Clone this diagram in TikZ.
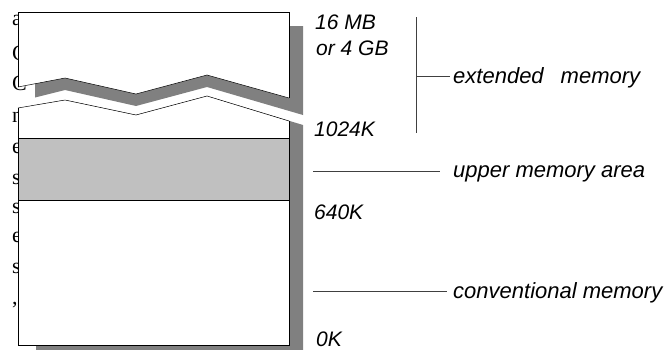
\documentclass[tikz,border=0pt]{standalone}
\usepackage{fontspec}
\setmainfont{Liberation Sans}
\newfontfamily\bgserif{Liberation Serif}
\begin{document}
\begin{tikzpicture}[x=1pt,y=-1pt,
  lbl/.style={font=\fontsize{22}{26}\selectfont\itshape, inner sep=0pt, anchor=base west},
  num/.style={font=\fontsize{21}{25}\selectfont\itshape, inner sep=0pt, anchor=base west},
  bgl/.style={font=\fontsize{22}{26}\selectfont\bgserif, inner sep=0pt, anchor=base west},
  conn/.style={draw=black!75, line width=1pt},
  frame/.style={draw=black, line width=0.9pt},
  zig/.style={draw=black, line width=0.5pt}]
\useasboundingbox (0,0) rectangle (666,349);
\definecolor{shadowgray}{HTML}{808080}
\definecolor{bandgray}{HTML}{C0C0C0}
% background text letters (cut by the box)
\foreach \ch/\yy [count=\i] in {a/25,C/60,C/90,n/122,e/153,s/184,s/213,e/242,s/273,{,}/304}
  \node[bgl] (bg\i) at (12,\yy) {\ch};
% shadows
\fill[shadowgray] (35,26) -- (303,26) -- (303,115) -- (207,87) -- (136,106) -- (65,90) -- (35,97.5) -- cycle;
\fill[shadowgray] (36,105) -- (65,100) -- (136,115) -- (207,96) -- (303,125) -- (303,352) -- (36,352) -- cycle;
% upper piece
\fill[white] (18,12) -- (289,12) -- (289,98) -- (207,75) -- (136,94) -- (65,78) -- (18,87) -- cycle;
\draw[frame] (18,87) -- (18,12) -- (289,12) -- (289,98);
\draw[zig] (18,87) -- (65,78) -- (136,94) -- (207,75) -- (289,98);
% lower piece
\fill[white] (18,108) -- (65,100) -- (136,115) -- (207,96) -- (289,121) -- (289,345) -- (18,345) -- cycle;
\fill[bandgray] (18,138) rectangle (289,200);
\draw[frame] (18,108) -- (18,345) -- (289,345) -- (289,121);
\draw[zig] (18,108) -- (65,100) -- (136,115) -- (207,96) -- (289,121);
\draw[frame] (18,138) -- (289,138);
\draw[frame] (18,200) -- (289,200);
% address labels
\node[num] (n16) at (315,29) {16 MB};
\node[num] (n4g) at (316,55) {or 4 GB};
\node[num] (n1024) at (314,136) {1024K};
\node[num] (n640) at (314,219) {640K};
\node[num] (n0) at (316,346) {0K};
% region labels
\node[lbl] (ext) at (453,83) {extended\hspace{17pt}memory};
\node[lbl] (uma) at (453,177) {upper memory area};
\node[lbl] (conv) at (453,298) {conventional memory};
\coordinate (extTop) at (416,17);
\coordinate (extBot) at (416,133);
\coordinate (extMid) at (416,76);
\coordinate (extEnd) at (450,76);
\draw[conn] (extTop) -- (extBot);
\draw[conn] (extMid) -- (extEnd);
\coordinate (umaL) at (313,171);
\coordinate (umaR) at (440,171);
\draw[conn] (umaL) -- (umaR);
\coordinate (convL) at (313,291);
\coordinate (convR) at (447,291);
\draw[conn] (convL) -- (convR);
\end{tikzpicture}
\end{document}
